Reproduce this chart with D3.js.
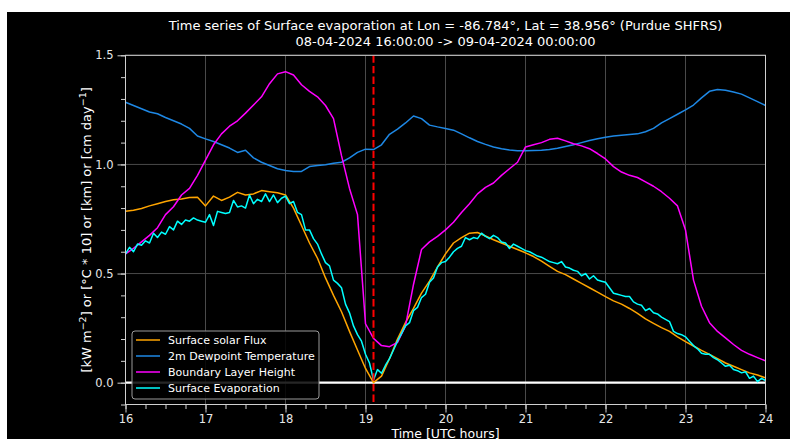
<!DOCTYPE html>
<html>
<head>
<meta charset="utf-8">
<script src="https://cdn.jsdelivr.net/npm/d3@7"></script>
<style>
  body { margin: 0; background: #fff; }
  svg { display: block; font-family: "DejaVu Sans", sans-serif; }
</style>
</head>
<body>
<div id="chart"></div>
<script>
// ---- data ------------------------------------------------------------
// hourly series sampled every 0.1 h
const hours = [16.0,16.1,16.2,16.3,16.4,16.5,16.6,16.7,16.8,16.9,
  17.0,17.1,17.2,17.3,17.4,17.5,17.6,17.7,17.8,17.9,
  18.0,18.1,18.2,18.3,18.4,18.5,18.6,18.7,18.8,18.9,
  19.0,19.1,19.2,19.3,19.4,19.5,19.6,19.7,19.8,19.9,
  20.0,20.1,20.2,20.3,20.4,20.5,20.6,20.7,20.8,20.9,
  21.0,21.1,21.2,21.3,21.4,21.5,21.6,21.7,21.8,21.9,
  22.0,22.1,22.2,22.3,22.4,22.5,22.6,22.7,22.8,22.9,
  23.0,23.1,23.2,23.3,23.4,23.5,23.6,23.7,23.8,23.9,24.0];

const solarFlux = [0.786,0.790,0.798,0.810,0.820,0.830,0.838,0.842,0.848,0.850,
  0.810,0.855,0.835,0.850,0.872,0.860,0.865,0.880,0.875,0.870,
  0.860,0.800,0.720,0.640,0.570,0.480,0.400,0.325,0.235,0.150,
  0.065,0.000,0.030,0.110,0.200,0.275,0.340,0.410,0.465,0.530,
  0.590,0.640,0.665,0.685,0.688,0.672,0.655,0.640,0.625,0.610,
  0.595,0.578,0.557,0.533,0.510,0.495,0.475,0.455,0.435,0.415,
  0.394,0.375,0.360,0.340,0.318,0.292,0.272,0.252,0.235,0.210,
  0.188,0.168,0.148,0.130,0.110,0.090,0.075,0.060,0.045,0.035,0.022];

const dewpoint = [1.285,1.270,1.255,1.240,1.232,1.215,1.200,1.185,1.165,1.130,
  1.117,1.105,1.090,1.075,1.055,1.065,1.030,1.010,0.995,0.980,
  0.972,0.968,0.968,0.990,0.995,0.998,1.005,1.010,1.030,1.055,
  1.070,1.068,1.090,1.138,1.162,1.190,1.222,1.210,1.180,1.172,
  1.165,1.157,1.140,1.122,1.105,1.092,1.080,1.072,1.066,1.063,
  1.063,1.064,1.065,1.068,1.074,1.082,1.090,1.100,1.110,1.118,
  1.124,1.130,1.134,1.137,1.140,1.150,1.165,1.190,1.210,1.230,
  1.250,1.272,1.305,1.335,1.343,1.340,1.332,1.322,1.305,1.288,1.270];

const blHeight = [0.590,0.615,0.645,0.675,0.710,0.770,0.806,0.860,0.890,0.950,
  1.020,1.090,1.140,1.175,1.200,1.235,1.272,1.310,1.370,1.415,
  1.425,1.410,1.365,1.335,1.310,1.270,1.210,1.040,0.890,0.770,
  0.270,0.203,0.170,0.165,0.185,0.260,0.450,0.610,0.645,0.670,
  0.700,0.735,0.780,0.820,0.865,0.895,0.915,0.950,0.980,1.010,
  1.080,1.090,1.100,1.115,1.120,1.108,1.095,1.085,1.072,1.050,
  1.025,0.990,0.965,0.950,0.940,0.920,0.900,0.875,0.845,0.810,
  0.700,0.470,0.350,0.275,0.235,0.205,0.175,0.148,0.130,0.115,0.100];

// evaporation is noisier, read every 0.05 h
const evapHours = [16.00,16.05,16.10,16.15,16.20,16.25,16.30,16.35,16.40,16.45,
  16.50,16.55,16.60,16.65,16.70,16.75,16.80,16.85,16.90,16.95,
  17.00,17.05,17.10,17.15,17.20,17.25,17.30,17.35,17.40,17.45,
  17.50,17.55,17.60,17.65,17.70,17.75,17.80,17.85,17.90,17.95,
  18.00,18.05,18.10,18.15,18.20,18.25,18.30,18.35,18.40,18.45,
  18.50,18.55,18.60,18.65,18.70,18.75,18.80,18.85,18.90,18.95,
  19.00,19.05,19.10,19.15,19.20,19.25,19.30,19.35,19.40,19.45,
  19.50,19.55,19.60,19.65,19.70,19.75,19.80,19.85,19.90,19.95,
  20.00,20.05,20.10,20.15,20.20,20.25,20.30,20.35,20.40,20.45,
  20.50,20.55,20.60,20.65,20.70,20.75,20.80,20.85,20.90,20.95,
  21.00,21.05,21.10,21.15,21.20,21.25,21.30,21.35,21.40,21.45,
  21.50,21.55,21.60,21.65,21.70,21.75,21.80,21.85,21.90,21.95,
  22.00,22.05,22.10,22.15,22.20,22.25,22.30,22.35,22.40,22.45,
  22.50,22.55,22.60,22.65,22.70,22.75,22.80,22.85,22.90,22.95,
  23.00,23.05,23.10,23.15,23.20,23.25,23.30,23.35,23.40,23.45,
  23.50,23.55,23.60,23.65,23.70,23.75,23.80,23.85,23.90,23.95,24.00];

const evaporation = [0.590,0.620,0.600,0.635,0.630,0.650,0.640,0.685,0.665,0.690,
  0.680,0.715,0.700,0.740,0.725,0.745,0.740,0.755,0.745,0.740,
  0.735,0.770,0.720,0.785,0.780,0.775,0.780,0.835,0.805,0.810,
  0.800,0.860,0.820,0.840,0.830,0.865,0.830,0.860,0.825,0.845,
  0.855,0.820,0.830,0.780,0.770,0.700,0.700,0.660,0.635,0.590,
  0.550,0.535,0.470,0.455,0.435,0.360,0.320,0.260,0.220,0.190,
  0.130,0.090,0.012,0.060,0.043,0.080,0.110,0.150,0.190,0.225,
  0.260,0.275,0.330,0.345,0.390,0.405,0.460,0.480,0.530,0.550,
  0.555,0.575,0.600,0.615,0.625,0.665,0.655,0.665,0.660,0.685,
  0.670,0.660,0.675,0.665,0.645,0.640,0.615,0.635,0.625,0.615,
  0.605,0.600,0.590,0.580,0.575,0.565,0.555,0.550,0.545,0.555,
  0.530,0.525,0.515,0.510,0.490,0.500,0.475,0.490,0.470,0.465,
  0.460,0.435,0.410,0.405,0.400,0.395,0.395,0.370,0.360,0.355,
  0.330,0.340,0.320,0.315,0.300,0.290,0.280,0.235,0.225,0.220,
  0.210,0.190,0.170,0.155,0.135,0.130,0.130,0.115,0.105,0.090,
  0.075,0.080,0.060,0.055,0.045,0.050,0.020,0.030,0.005,0.020,0.010];

const seriesNames = ["Surface solar Flux", "2m Dewpoint Temperature",
  "Boundary Layer Height", "Surface Evaporation"];
const seriesColors = ["#ffa500", "#1e88e5", "#ff00ff", "#00ffff"];
const xTicks = [16, 17, 18, 19, 20, 21, 22, 23, 24];
const yTicks = [0.0, 0.5, 1.0, 1.5];
const markerHour = 19.1;

// ---- layout -----------------------------------------------------------
const W = 790, H = 439;
const plotL = 125.5, plotR = 765.5, plotT = 55.3, plotB = 404.5;

const svg = d3.select("#chart").append("svg")
  .attr("width", W).attr("height", H);

// figure background (black, offset like the reference)
svg.append("rect").attr("x", 7).attr("y", 12)
  .attr("width", W - 7).attr("height", H - 12).attr("fill", "#000");

const x = d3.scaleLinear().domain([16, 24]).range([plotL, plotR]);
const y = d3.scaleLinear().domain([-0.1, 1.5]).range([plotB, plotT]);

// grid
const grid = svg.append("g").attr("stroke", "#4a4a4a").attr("stroke-width", 1);
grid.selectAll(".gx").data(xTicks).enter().append("line")
  .attr("x1", d => x(d)).attr("x2", d => x(d)).attr("y1", plotT).attr("y2", plotB);
grid.selectAll(".gy").data(yTicks).enter().append("line")
  .attr("y1", d => y(d)).attr("y2", d => y(d)).attr("x1", plotL).attr("x2", plotR);

// zero line
svg.append("line").attr("x1", plotL).attr("x2", plotR)
  .attr("y1", y(0)).attr("y2", y(0))
  .attr("stroke", "#fff").attr("stroke-width", 2.2);

// series
const allSeries = [
  { t: hours, v: solarFlux },
  { t: hours, v: dewpoint },
  { t: hours, v: blHeight },
  { t: evapHours, v: evaporation }
];
const line = (s) => d3.line()
  .x((d, i) => x(s.t[i]))
  .y(d => y(d))(s.v);

svg.append("g").selectAll("path").data(allSeries).enter().append("path")
  .attr("d", line)
  .attr("fill", "none")
  .attr("stroke", (d, i) => seriesColors[i])
  .attr("stroke-width", 1.5)
  .attr("stroke-linejoin", "round");

// red dashed marker
svg.append("line")
  .attr("x1", x(markerHour)).attr("x2", x(markerHour))
  .attr("y1", plotT).attr("y2", plotB)
  .attr("stroke", "#ff0000").attr("stroke-width", 2)
  .attr("stroke-dasharray", "7.4,3.2");

// spines
svg.append("rect").attr("x", plotL).attr("y", plotT)
  .attr("width", plotR - plotL).attr("height", plotB - plotT)
  .attr("fill", "none").attr("stroke", "#d0d0d0").attr("stroke-width", 1);

// axes
function styleAxis(g) {
  g.select(".domain").remove();
  g.selectAll(".tick line").attr("stroke", "#d0d0d0");
  g.selectAll(".tick text").attr("fill", "#e8e8e8")
    .style("font-family", "DejaVu Sans").style("font-size", "11.5px");
}

svg.append("g").attr("transform", `translate(0,${plotB})`)
  .call(d3.axisBottom(x).tickValues(d3.range(16, 24.01, 0.25)).tickSize(4.5).tickFormat(""))
  .call(styleAxis);
svg.append("g").attr("transform", `translate(0,${plotB})`)
  .call(d3.axisBottom(x).tickValues(xTicks).tickSize(8).tickPadding(2).tickFormat(d3.format("d")))
  .call(styleAxis);

svg.append("g").attr("transform", `translate(${plotL},0)`)
  .call(d3.axisLeft(y).tickValues(d3.range(-0.1, 1.501, 0.1)).tickSize(4.5).tickFormat(""))
  .call(styleAxis);
svg.append("g").attr("transform", `translate(${plotL},0)`)
  .call(d3.axisLeft(y).tickValues(yTicks).tickSize(8).tickPadding(4).tickFormat(d3.format(".1f")))
  .call(styleAxis);

// title
svg.append("text").attr("x", (plotL + plotR) / 2).attr("y", 30)
  .attr("text-anchor", "middle").attr("fill", "#fff").style("font-size", "13px")
  .text("Time series of Surface evaporation at Lon = -86.784°, Lat = 38.956° (Purdue SHFRS)");
svg.append("text").attr("x", (plotL + plotR) / 2).attr("y", 45.5)
  .attr("text-anchor", "middle").attr("fill", "#fff").style("font-size", "13px")
  .text("08-04-2024 16:00:00 -> 09-04-2024 00:00:00");

// axis labels
svg.append("text").attr("x", (plotL + plotR) / 2).attr("y", 437.5)
  .attr("text-anchor", "middle").attr("fill", "#fff").style("font-size", "12.5px")
  .text("Time [UTC hours]");

const ylab = svg.append("text")
  .attr("transform", `translate(91,${(plotT + plotB) / 2}) rotate(-90)`)
  .attr("text-anchor", "middle").attr("fill", "#fff").style("font-size", "13px");
ylab.append("tspan").text("[kW m");
ylab.append("tspan").attr("dy", -5).style("font-size", "9.5px").text("\u22122");
ylab.append("tspan").attr("dy", 5).text("] or [°C * 10] or [km] or [cm day");
ylab.append("tspan").attr("dy", -5).style("font-size", "9.5px").text("\u22121");
ylab.append("tspan").attr("dy", 5).text("]");

// legend
const lg = svg.append("g").attr("transform", "translate(132,331)");
lg.append("rect").attr("width", 187).attr("height", 68).attr("rx", 3)
  .attr("fill", "#000").attr("fill-opacity", 0.85)
  .attr("stroke", "#9a9a9a").attr("stroke-width", 1);
const items = lg.selectAll(".item").data(seriesNames).enter().append("g")
  .attr("transform", (d, i) => `translate(0,${9 + i * 16})`);
items.append("line").attr("x1", 4).attr("x2", 28)
  .attr("stroke", (d, i) => seriesColors[i]).attr("stroke-width", 1.5);
items.append("text").attr("x", 36).attr("dy", "0.35em")
  .attr("fill", "#fff").style("font-size", "11px").text(d => d);
</script>
</body>
</html>
